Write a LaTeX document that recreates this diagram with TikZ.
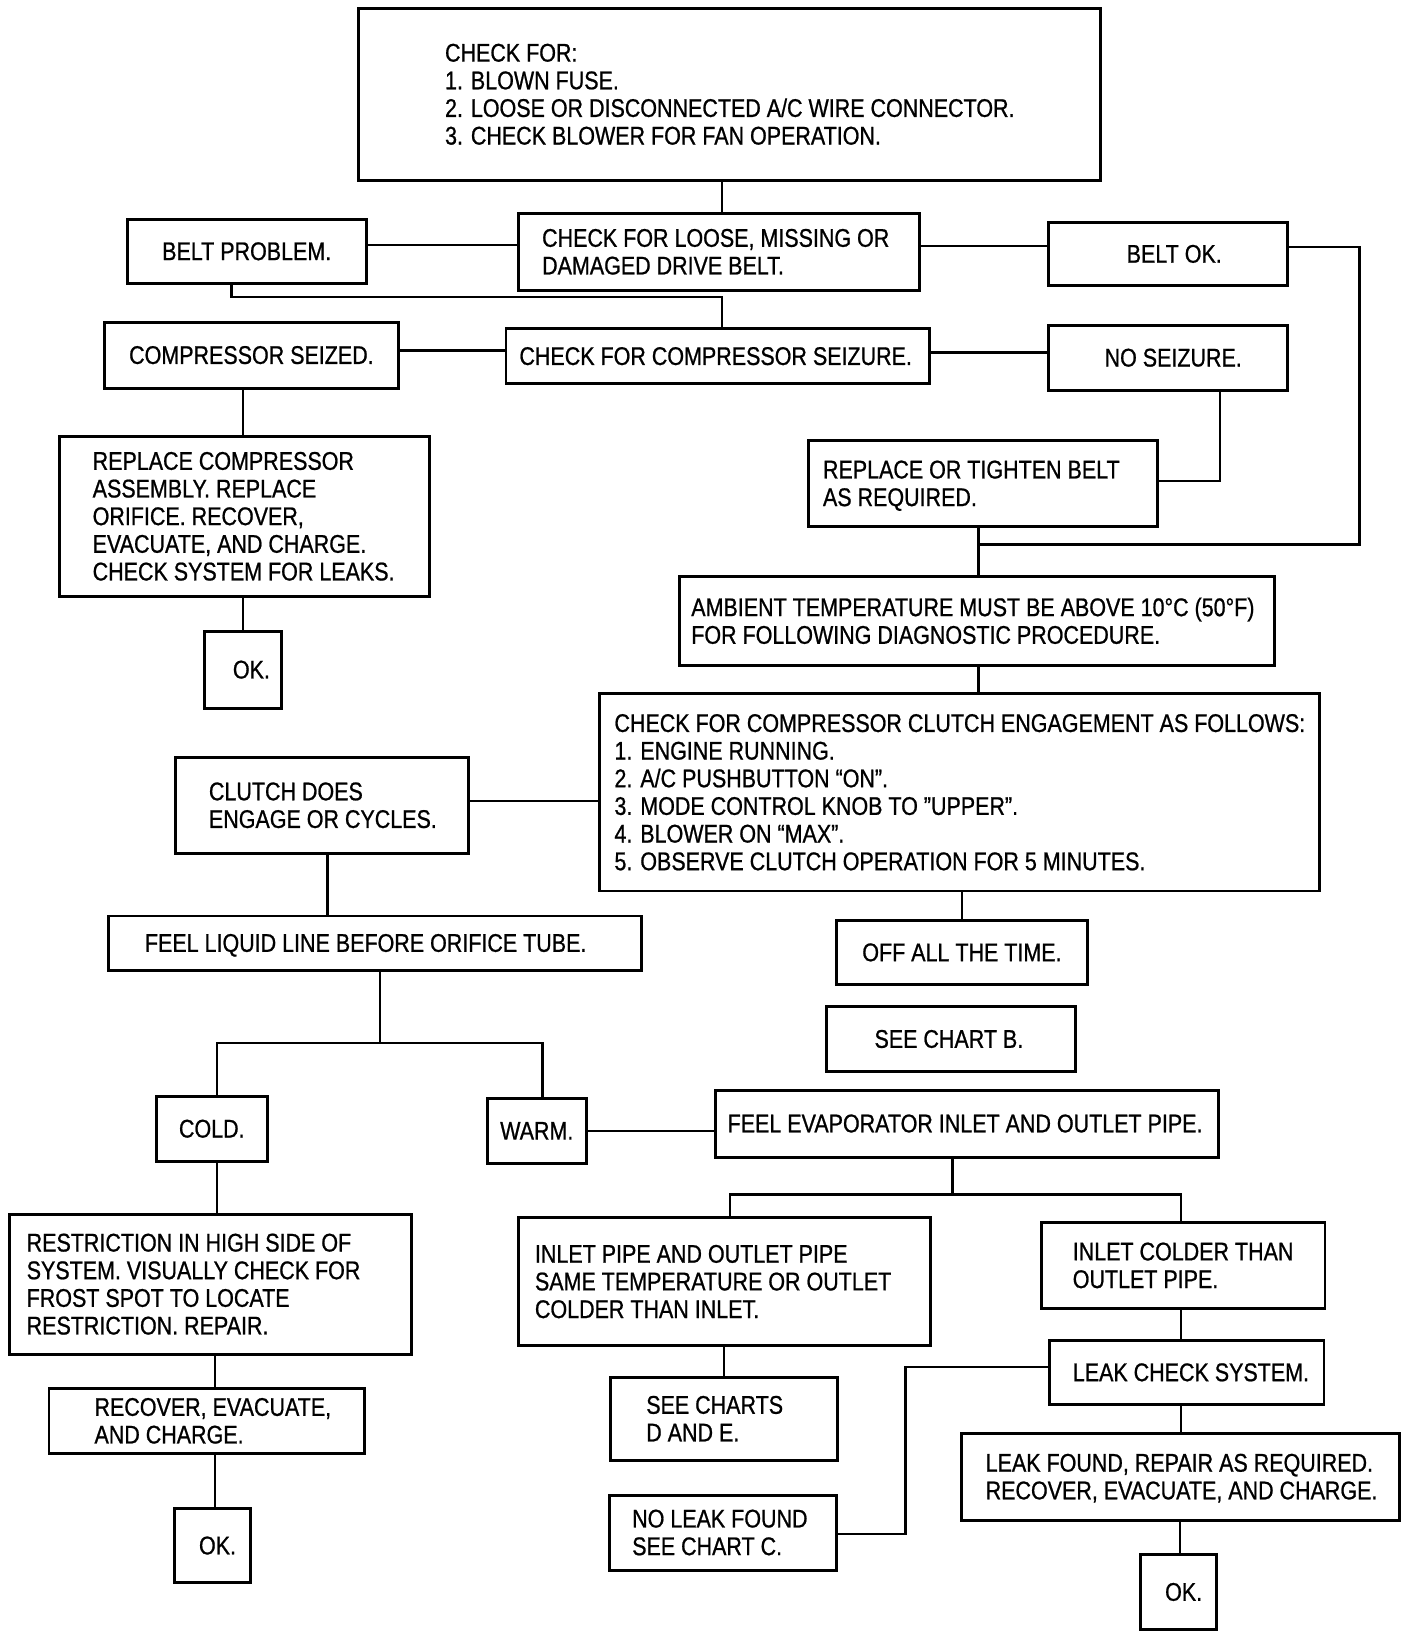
\documentclass[tikz,border=0pt]{standalone}
\usepackage{fontspec}
\setmainfont{Liberation Sans}[FakeStretch=0.84,FakeBold=0.8]
\begin{document}
\begin{tikzpicture}[x=1pt,y=-1pt,
  box/.style={draw, line width=2.8pt, inner sep=0pt,
    font=\fontsize{24.5}{26.5}\selectfont},
  conn/.style={line width=2.2pt}]
\useasboundingbox[fill=white] (0,0) rectangle (1350,1570);
\newcommand\mkbox[7]{%
  \node[box, minimum width={#4-#2}, minimum height={#5-#3}]
    (#1) at ({(#2+#4)/2},{(#3+#5)/2})
    {\hspace*{#6pt}\hspace*{#6pt}\raisebox{-3pt}[\height][\depth]{\begin{tabular}{@{}l@{}}#7\end{tabular}}};}
\mkbox{top}{344}{8}{1055}{173}{0}{CHECK FOR:\\1. BLOWN FUSE.\\2. LOOSE OR DISCONNECTED A/C WIRE CONNECTOR.\\3. CHECK BLOWER FOR FAN OPERATION.}
\mkbox{beltchk}{497}{205}{881}{278}{-3}{CHECK FOR LOOSE, MISSING OR\\DAMAGED DRIVE BELT.}
\mkbox{beltprob}{122}{210}{351}{272}{0}{BELT PROBLEM.}
\mkbox{beltok}{1005}{213}{1234}{274}{6}{BELT OK.}
\mkbox{seizchk}{485}{315}{891}{368}{-2}{CHECK FOR COMPRESSOR SEIZURE.}
\mkbox{seized}{100}{309}{382}{372}{0}{COMPRESSOR SEIZED.}
\mkbox{noseize}{1005}{312}{1234}{374}{5}{NO SEIZURE.}
\mkbox{tighten}{775}{422}{1109}{505}{-11}{REPLACE OR TIGHTEN BELT\\AS REQUIRED.}
\mkbox{replcomp}{57}{418}{412}{572}{-1}{REPLACE COMPRESSOR\\ASSEMBLY. REPLACE\\ORIFICE. RECOVER,\\EVACUATE, AND CHARGE.\\CHECK SYSTEM FOR LEAKS.}
\mkbox{okA}{196}{605}{270}{679}{8}{OK.}
\mkbox{ambient}{651}{553}{1222}{638}{-4}{AMBIENT TEMPERATURE MUST BE ABOVE 10°C (50°F)\\FOR FOLLOWING DIAGNOSTIC PROCEDURE.}
\mkbox{clutchchk}{575}{665}{1265}{854}{0}{CHECK FOR COMPRESSOR CLUTCH ENGAGEMENT AS FOLLOWS:\\1. ENGINE RUNNING.\\2. A/C PUSHBUTTON “ON”.\\3. MODE CONTROL KNOB TO \char"22UPPER”.\\4. BLOWER ON “MAX\char"22.\\5. OBSERVE CLUTCH OPERATION FOR 5 MINUTES.}
\mkbox{engage}{168}{726}{449}{818}{1}{CLUTCH DOES\\ENGAGE OR CYCLES.}
\mkbox{liquid}{104}{878}{615}{930}{-9}{FEEL LIQUID LINE BEFORE ORIFICE TUBE.}
\mkbox{cold}{150}{1051}{256}{1113}{0}{COLD.}
\mkbox{warm}{467}{1053}{562}{1115}{0}{WARM.}
\mkbox{offtime}{802}{882}{1042}{944}{0}{OFF ALL THE TIME.}
\mkbox{chartb}{792}{965}{1031}{1027}{-2}{SEE CHART B.}
\mkbox{evap}{686}{1045}{1168}{1109}{-2}{FEEL EVAPORATOR INLET AND OUTLET PIPE.}
\mkbox{same}{497}{1167}{892}{1290}{-11}{INLET PIPE AND OUTLET PIPE\\SAME TEMPERATURE OR OUTLET\\COLDER THAN INLET.}
\mkbox{colder}{998}{1172}{1270}{1254}{0}{INLET COLDER THAN\\OUTLET PIPE.}
\mkbox{leakchk}{1006}{1285}{1269}{1346}{4}{LEAK CHECK SYSTEM.}
\mkbox{leakfound}{922}{1374}{1341}{1457}{1}{LEAK FOUND, REPAIR AS REQUIRED.\\RECOVER, EVACUATE, AND CHARGE.}
\mkbox{okC}{1093}{1490}{1166}{1562}{5}{OK.}
\mkbox{chartde}{585}{1320}{803}{1400}{-9}{SEE CHARTS\\D AND E.}
\mkbox{noleak}{584}{1433}{802}{1505}{-3}{NO LEAK FOUND\\SEE CHART C.}
\mkbox{restrict}{9}{1164}{394}{1298}{-16}{RESTRICTION IN HIGH SIDE OF\\SYSTEM. VISUALLY CHECK FOR\\FROST SPOT TO LOCATE\\RESTRICTION. REPAIR.}
\mkbox{recover}{47}{1331}{349}{1393}{6}{RECOVER, EVACUATE,\\AND CHARGE.}
\mkbox{okB}{167}{1446}{240}{1517}{5}{OK.}
\coordinate (j1) at (938,522);
\coordinate (j2) at (364,1000);
\coordinate (j3) at (913,1145);
% connectors
\draw[conn] (692,0 |- top.south) -- (692,0 |- beltchk.north);
\draw[conn] (beltprob.east |- 0,235) -- (beltchk.west |- 0,235);
\draw[conn] (beltchk.east |- 0,236) -- (beltok.west |- 0,236);
\draw[conn] (beltok.east |- 0,237) -- (1303,237) -- (1303,522) -- (j1);
\draw[conn] (222,0 |- beltprob.south) -- (222,285) -- (692,285) -- (692,0 |- seizchk.north);
\draw[conn] (seized.east |- 0,336) -- (seizchk.west |- 0,336);
\draw[conn] (seizchk.east |- 0,338) -- (noseize.west |- 0,338);
\draw[conn] (1169,0 |- noseize.south) -- (1169,461) -- (tighten.east |- 0,461);
\draw[conn] (938,0 |- tighten.south) -- (938,0 |- ambient.north);
\draw[conn] (233,0 |- seized.south) -- (233,0 |- replcomp.north);
\draw[conn] (233,0 |- replcomp.south) -- (233,0 |- okA.north);
\draw[conn] (938,0 |- ambient.south) -- (938,0 |- clutchchk.north);
\draw[conn] (engage.east |- 0,768) -- (clutchchk.west |- 0,768);
\draw[conn] (314,0 |- engage.south) -- (314,0 |- liquid.north);
\draw[conn] (364,0 |- liquid.south) -- (j2);
\draw[conn] (208,0 |- cold.north) -- (208,1000) -- (520,1000) -- (520,0 |- warm.north);
\draw[conn] (922,0 |- clutchchk.south) -- (922,0 |- offtime.north);
\draw[conn] (warm.east |- 0,1084) -- (evap.west |- 0,1084);
\draw[conn] (913,0 |- evap.south) -- (j3);
\draw[conn] (700,0 |- same.north) -- (700,1145) -- (1132,1145) -- (1132,0 |- colder.north);
\draw[conn] (1132,0 |- colder.south) -- (1132,0 |- leakchk.north);
\draw[conn] (leakchk.west |- 0,1310) -- (868,1310) -- (868,1470) -- (noleak.east |- 0,1470);
\draw[conn] (1132,0 |- leakchk.south) -- (1132,0 |- leakfound.north);
\draw[conn] (1131,0 |- leakfound.south) -- (1131,0 |- okC.north);
\draw[conn] (694,0 |- same.south) -- (694,0 |- chartde.north);
\draw[conn] (208,0 |- cold.south) -- (208,0 |- restrict.north);
\draw[conn] (206,0 |- restrict.south) -- (206,0 |- recover.north);
\draw[conn] (206,0 |- recover.south) -- (206,0 |- okB.north);
\end{tikzpicture}
\end{document}
